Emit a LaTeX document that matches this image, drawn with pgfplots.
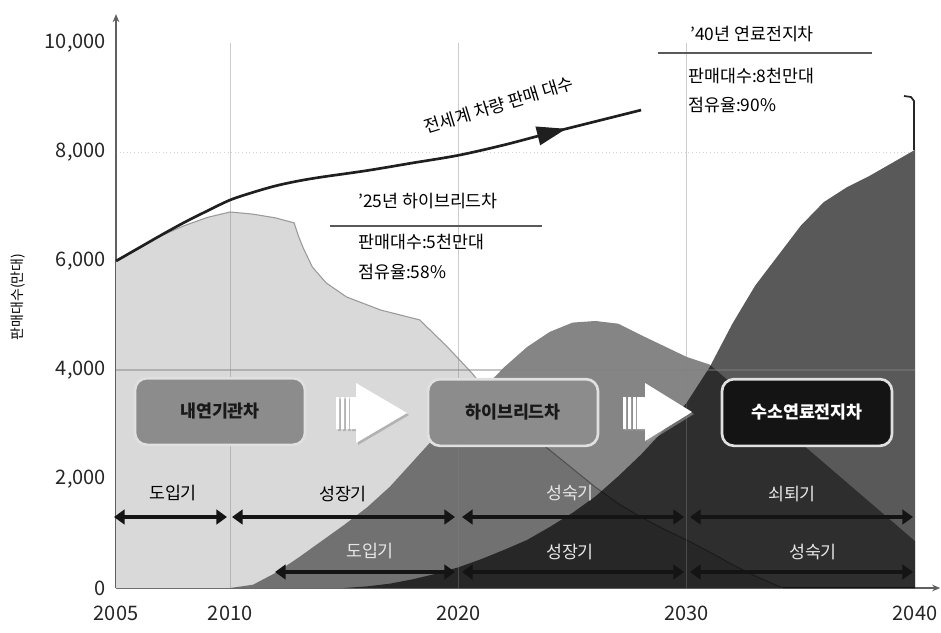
\documentclass[border=0pt]{standalone}
\usepackage{fontspec}
\setmainfont{Noto Sans CJK KR}
\usepackage{pgfplots}
\usepackage{pgfplotstable}
\pgfplotsset{compat=1.18}
\usetikzlibrary{arrows.meta,decorations.markings}
\definecolor{icefill}{HTML}{D9D9D9}
\definecolor{iceedge}{HTML}{9A9A9A}
\definecolor{boxgray}{HTML}{8C8C8C}
\definecolor{boxdark}{HTML}{141414}
\definecolor{axisgray}{HTML}{606060}
\definecolor{lighttext}{HTML}{E6E6E6}

% Internal combustion vehicles
\pgfplotstableread{
x y
2005 6000
2006 6240
2007 6470
2008 6650
2009 6800
2010 6900
2011 6860
2012 6790
2012.8 6700
2013.0 6450
2013.2 6240
2013.6 5890
2014.2 5600
2015.1 5340
2016.6 5100
2018.3 4920
2019.5 4430
2020.6 3940
2022 3200
2024 2530
2026 1850
2027 1550
2028 1300
2029 1080
2030 880
2031 660
2032 430
2033 220
2034.2 0
}\ice
% Hybrid vehicles
\pgfplotstableread{
x y
2010 0
2011 60
2012 280
2013 560
2014 860
2015 1160
2016 1480
2017 1860
2018 2320
2019 2780
2020 3220
2021 3620
2022 4050
2023 4420
2024 4700
2025 4870
2026 4900
2027 4850
2028 4640
2029 4440
2030 4240
2031 4100
2032 3740
2033 3380
2034 3020
2035 2660
2036 2300
2037 1940
2038 1580
2039 1220
2040 860
}\hyb
% Fuel cell vehicles
\pgfplotstableread{
x y
2015 0
2016 30
2017 80
2018 160
2019 260
2020 380
2021 530
2022 700
2023 880
2024 1120
2025 1380
2026 1680
2027 2050
2028 2450
2029 2900
2030 3400
2031 4050
2032 4850
2033 5550
2034 6100
2035 6650
2036 7080
2037 7350
2038 7560
2039 7800
2040 8040
}\fcv
% World vehicle sales
\pgfplotstableread{
x y
2005 6000
2006 6240
2007 6480
2008 6710
2009 6920
2010 7120
2011 7260
2012 7380
2013 7470
2014 7540
2016 7660
2018 7800
2020 7940
2022 8130
2024 8350
2026 8560
2028 8770
}\total

\begin{document}
\begin{tikzpicture}
\useasboundingbox (0,0) rectangle (705.75pt,-474pt);
\begin{axis}[
  at={(87pt,-441pt)}, anchor=south west,
  scale only axis, width=618.1pt, height=430.4pt,
  xmin=2005, xmax=2041.1, ymin=0, ymax=10530,
  axis lines=left,
  axis line style={axisgray, line width=1pt, -{Stealth[length=6pt,width=5pt]}},
  xtick={2005,2010,2020,2030,2040},
  ytick={0,2000,4000,6000,8000,10000},
  scaled y ticks=false, scaled x ticks=false,
  major tick length=0pt,
  /pgf/number format/assume math mode=true,
  tick label style={font=\fontsize{15}{16}\selectfont, text=black!85},
  xticklabel style={/pgf/number format/1000 sep={}},
  xticklabel shift=10pt,
  yticklabel style={/pgf/number format/1000 sep={,}},
  yticklabel shift=4pt,
  clip=false,
]
\addplot[draw=none, fill=icefill] table {\ice} \closedcycle;
\addplot[iceedge, line width=0.8pt] table {\ice};
\addplot[draw=none, fill=black, fill opacity=0.48] table {\hyb} \closedcycle;
\addplot[draw=none, fill=black, fill opacity=0.65] table {\fcv} \closedcycle;

\draw[gray, opacity=0.4, line width=0.6pt] (axis cs:2010,0) -- (axis cs:2010,10000);
\draw[gray, opacity=0.4, line width=0.6pt] (axis cs:2020,0) -- (axis cs:2020,10000);
\draw[gray, opacity=0.4, line width=0.6pt] (axis cs:2030,0) -- (axis cs:2030,10000);
\draw[gray, opacity=0.45, line width=0.8pt] (axis cs:2005,4000) -- (axis cs:2040,4000);
\draw[gray, opacity=0.35, dotted, line width=0.7pt] (axis cs:2005,8000) -- (axis cs:2040,8000);

\addplot[smooth, color=black!88, line width=2pt, postaction={decorate},
  decoration={markings, mark=at position 0.86 with {\arrow{Triangle[length=22pt,width=14pt]}}}]
  table {\total};
\end{axis}

\begin{scope}[x=0.75pt, y=-0.75pt]
  % y label
  \node[rotate=90, font=\fontsize{10.5}{10.5}\selectfont] at (18,297) {판매대수(만대)};
  % total label
  \node[rotate=17, font=\fontsize{13}{13}\selectfont] at (499,105) {전세계 차량 판매 대수};
  % annotation 2025
  \node[anchor=west, font=\fontsize{13}{13}\selectfont, inner sep=0pt] at (358,201) {’25년 하이브리드차};
  \draw[line width=2pt, black!65] (330,226) -- (542,226);
  \node[anchor=west, font=\fontsize{13}{13}\selectfont, inner sep=0pt] at (358,242) {판매대수:5천만대};
  \node[anchor=west, font=\fontsize{13}{13}\selectfont, inner sep=0pt] at (358,272) {점유율:58\%};
  % annotation 2040
  \node[anchor=west, font=\fontsize{13}{13}\selectfont, inner sep=0pt] at (690,34) {’40년 연료전지차};
  \draw[line width=2pt, black!65] (658,53) -- (872,53);
  \node[anchor=west, font=\fontsize{13}{13}\selectfont, inner sep=0pt] at (688,76) {판매대수:8천만대};
  \node[anchor=west, font=\fontsize{13}{13}\selectfont, inner sep=0pt] at (688,105) {점유율:90\%};
  % bracket at 2040
  \draw[black!85, line width=1.3pt, line join=round] (904,96) -- (911,97) -- (914,101) -- (914,150);
  % boxes
  \tikzset{cbox/.style={rounded corners=9pt, minimum width=127.5pt, minimum height=50pt,
     draw=white!88!black, line width=2pt, font=\fontsize{13}{13}\selectfont\bfseries}}
  \node[cbox, fill=boxgray, text=black!90] at (220,411.5) {내연기관차};
  \node[cbox, fill=boxgray, text=black!90] at (513,412.5) {하이브리드차};
  \node[cbox, fill=boxdark, text=white] at (807,412.5) {수소연료전지차};
  % block arrow 1
  \fill[black!40, opacity=0.6] (338,399) rectangle (341,431) (343,399) rectangle (346,431) (348,399) rectangle (351,431)
     (352,399) rectangle (358,431) (358,385) -- (409,415) -- (358,445) -- cycle;
  \fill[white] (336,397) rectangle (339,429) (341,397) rectangle (344,429) (346,397) rectangle (349,429)
     (350,397) rectangle (356,429) (356,383) -- (407,413) -- (356,443) -- cycle;
  % block arrow 2
  \fill[black!40, opacity=0.6] (625,399) rectangle (628,431) (630,399) rectangle (633,431) (635,399) rectangle (638,431)
     (639,399) rectangle (647,431) (647,385) -- (694,414) -- (647,443) -- cycle;
  \fill[white] (623,397) rectangle (626,429) (628,397) rectangle (631,429) (633,397) rectangle (636,429)
     (637,397) rectangle (645,429) (645,383) -- (692,412) -- (645,441) -- cycle;
  % phase arrows
  \tikzset{parr/.style={line width=3.5pt, black!92, {Triangle[length=8pt,width=11pt]}-{Triangle[length=8pt,width=11pt]}}}
  \draw[parr] (114,517) -- (227,517);
  \draw[parr] (232,517) -- (455,517);
  \draw[parr] (462,517) -- (684,517);
  \draw[parr] (690,517) -- (913,517);
  \draw[parr] (275,572) -- (455,572);
  \draw[parr] (462,572) -- (684,572);
  \draw[parr] (690,572) -- (913,572);
  % phase labels
  \tikzset{plab/.style={font=\fontsize{13}{13}\selectfont}}
  \node[plab] at (173,493) {도입기};
  \node[plab] at (343,494) {성장기};
  \node[plab, text=lighttext] at (570,493) {성숙기};
  \node[plab, text=lighttext] at (792,494) {쇠퇴기};
  \node[plab, text=lighttext] at (370,551) {도입기};
  \node[plab, text=lighttext] at (570,552) {성장기};
  \node[plab, text=lighttext] at (813,552) {성숙기};
\end{scope}
\end{tikzpicture}
\end{document}
